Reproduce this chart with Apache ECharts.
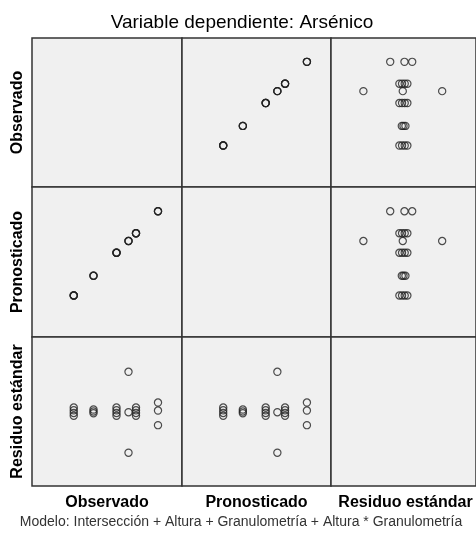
<!DOCTYPE html>
<html>
<head>
    <meta charset="utf-8">
    <title>Variable dependiente: Arsénico</title>
    <script src="https://cdn.jsdelivr.net/npm/echarts@6/dist/echarts.min.js"></script>
    <style>
        body { margin: 0; background: #fff; }
        #main { width: 476px; height: 536px; }
    </style>
</head>
<body>
<div id="main"></div>
<script>
    // nombres de las variables (filas / columnas)
    var variables = ['Observado', 'Pronosticado', 'Residuo estándar'];

    // valores por caso
    var observado = [16.7, 16.7, 16.7, 16.7,
        24.6, 24.6, 24.6,
        33.8, 33.8, 33.8, 33.8,
        38.6, 38.6, 38.6,
        41.6, 41.6, 41.6, 41.6,
        50.4, 50.4, 50.4];
    var pronosticado = [16.6, 16.6, 16.6, 16.6,
        24.5, 24.5, 24.5,
        33.7, 33.7, 33.7, 33.7,
        38.4, 38.4, 38.4,
        41.5, 41.5, 41.5, 41.5,
        50.3, 50.3, 50.3];
    var residuo = [-0.17, -0.06, 0.05, 0.16,
        -0.07, 0.0, 0.08,
        -0.17, -0.06, 0.05, 0.16,
        -1.66, -0.03, 1.6,
        -0.17, -0.06, 0.05, 0.16,
        -0.55, 0.04, 0.36];

    var valores = [observado, pronosticado, residuo];
    var rangos = [[0, 60], [0, 60], [-3, 3]];

    var lefts = [32, 182, 331], widths = [150, 149, 149];
    var tops = [38, 187, 337], heights = [149, 150, 149];

    var grids = [], xAxes = [], yAxes = [], series = [], graphics = [];
    for (var i = 0; i < 3; i++) {
        for (var j = 0; j < 3; j++) {
            var k = i * 3 + j;
            grids.push({
                left: lefts[j], top: tops[i], width: widths[j], height: heights[i],
                show: true, backgroundColor: '#f0f0f0', borderColor: '#333', borderWidth: 1.5
            });
            xAxes.push({ gridIndex: k, type: 'value', min: rangos[j][0], max: rangos[j][1], show: false });
            yAxes.push({ gridIndex: k, type: 'value', min: rangos[i][0], max: rangos[i][1], show: false });
            if (i == j) continue;
            var pts = [];
            for (var n = 0; n < observado.length; n++) {
                pts.push([valores[j][n], valores[i][n]]);
            }
            series.push({
                type: 'scatter', xAxisIndex: k, yAxisIndex: k,
                symbol: 'circle', symbolSize: 7.2,
                itemStyle: { color: 'rgba(0,0,0,0)', borderColor: '#222', borderWidth: 1.2 },
                data: pts, silent: true
            });
        }
    }

    // etiquetas de filas (verticales) y columnas
    for (var r = 0; r < 3; r++) {
        graphics.push({
            type: 'text', x: 18, y: tops[r] + heights[r] / 2, rotation: Math.PI / 2,
            style: {
                text: variables[r], font: 'bold 16px "Liberation Sans", Arial, sans-serif',
                fill: '#000', align: 'center', verticalAlign: 'middle'
            }
        });
        graphics.push({
            type: 'text', x: lefts[r] + widths[r] / 2, y: 503,
            style: {
                text: variables[r], font: 'bold 16px "Liberation Sans", Arial, sans-serif',
                fill: '#000', align: 'center', verticalAlign: 'middle'
            }
        });
    }
    graphics.push({
        type: 'text', x: 242, y: 23,
        style: {
            text: 'Variable dependiente: Arsénico', font: '19px "Liberation Sans", Arial, sans-serif',
            fill: '#000', align: 'center', verticalAlign: 'middle'
        }
    });
    graphics.push({
        type: 'text', x: 241, y: 522,
        style: {
            text: 'Modelo: Intersección + Altura + Granulometría + Altura * Granulometría',
            font: '14px "Liberation Sans", Arial, sans-serif',
            fill: '#333', align: 'center', verticalAlign: 'middle'
        }
    });

    var myChart = echarts.init(document.getElementById('main'));
    myChart.setOption({
        animation: false,
        grid: grids,
        xAxis: xAxes,
        yAxis: yAxes,
        series: series,
        graphic: graphics
    });
</script>
</body>
</html>
